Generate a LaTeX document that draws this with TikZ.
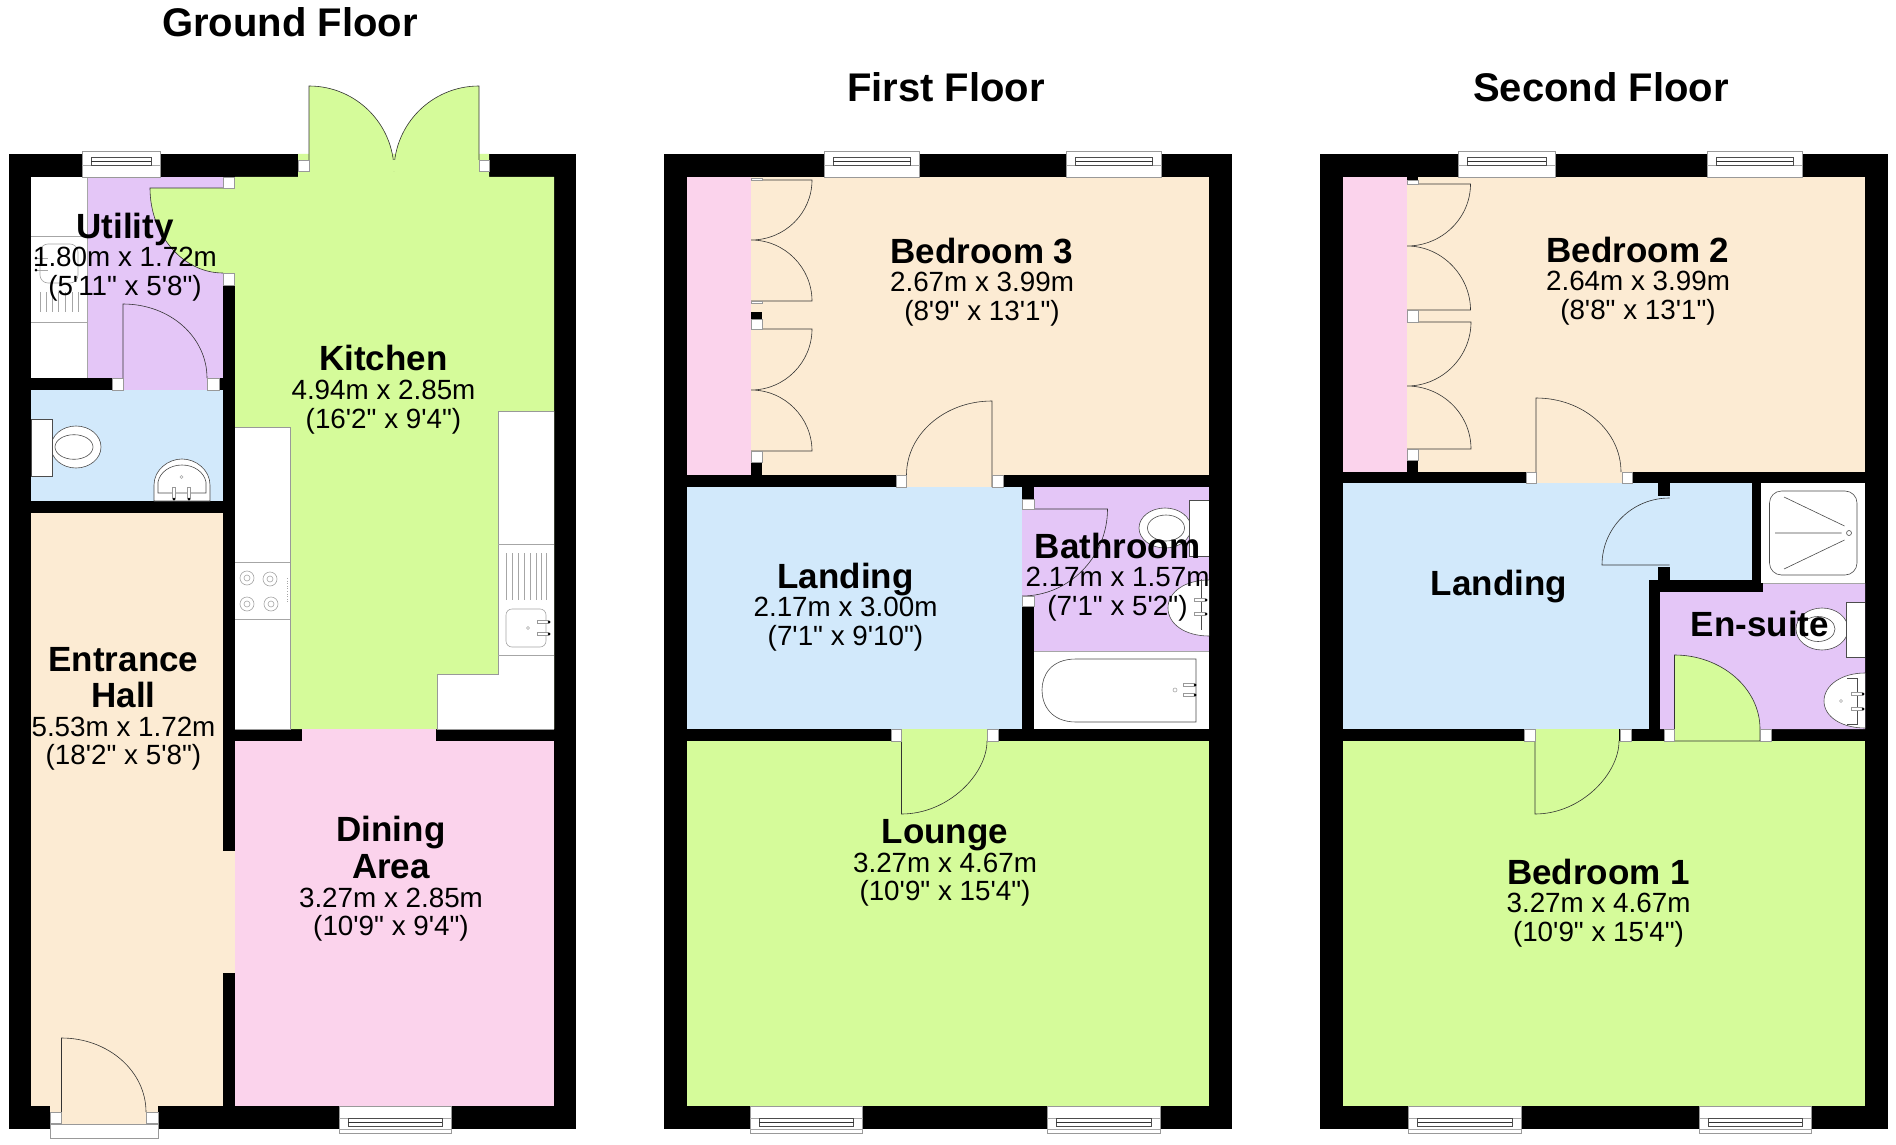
\documentclass[tikz,border=0pt]{standalone}
\usepackage{fontspec}
\setmainfont{Liberation Sans}[Ligatures=TeXOff]
\definecolor{roomgreen}{HTML}{D5FB9A}
\definecolor{roompink}{HTML}{FBD3EC}
\definecolor{roompeach}{HTML}{FCEBD3}
\definecolor{roomblue}{HTML}{D2E9FB}
\definecolor{roompurple}{HTML}{E4C6F7}
\newcommand{\roomname}[1]{{\fontsize{17.5}{18}\selectfont\bfseries #1}}

\begin{document}
\begin{tikzpicture}[
    x=0.5pt, y=-0.5pt,
    shell/.style={fill=black},
    unit/.style={draw=gray!80, line width=0.3pt, fill=white},
    fitting/.style={draw=black!70, line width=0.3pt, fill=white},
    thinline/.style={draw=gray!70, line width=0.3pt},
    leaf/.style={draw=black!80, line width=0.3pt},
    jamb/.style={draw=gray!80, line width=0.3pt, fill=white},
    tapdot/.style={fill=black},
    floortitle/.style={font=\fontsize{20}{22}\selectfont\bfseries},
    roomlabel/.style={align=center, inner sep=0pt, font=\fontsize{13.9}{14.4}\selectfont}
]
\useasboundingbox (0,0) rectangle (1896,1145);

% Outer walls
\fill[shell] (8.5,154) rectangle (576,1129);
\fill[shell] (664,154) rectangle (1232,1129);
\fill[shell] (1320,154) rectangle (1888,1129);

% Ground floor rooms
\fill[roomgreen] (298,154) -- (489,154) -- (489,177) -- (554,177) -- (554,729) -- (235,729) -- (235,177) -- (298,177) -- cycle;
\fill[roomgreen] (223,188) rectangle (235,273);
\fill[roompurple] (87.5,177) rectangle (223,378);
\fill[roompurple] (123,378) rectangle (207,390);
\fill[white] (31,177) rectangle (87.5,378);
\fill[roomblue] (31,390) rectangle (223,501);
\fill[roompeach] (31,513) rectangle (223,1106);
\fill[roompeach] (223,851) rectangle (235,973);
\fill[roompink] (235,741) rectangle (554,1106);
\fill[roompink] (302,729) rectangle (436,741);
\fill[roompeach] (50,1106) rectangle (158,1124);
\draw[thinline] (87.5,177) -- (87.5,378);

% Ground floor kitchen units
\draw[unit] (235,427) -- (290,427) -- (290,729) -- (235,729);
\draw[unit] (554,411) -- (498,411) -- (498,674) -- (437,674) -- (437,729) -- (554,729);
\draw[thinline] (235,562) -- (290,562) (235,619) -- (290,619);
\draw[thinline] (498,544) -- (554,544) (498,655) -- (554,655);
\foreach \cx/\cy in {247/578, 270/579, 247/604, 271/604} {
    \draw[thinline] (\cx,\cy) circle [radius=7];
    \draw[thinline] (\cx,\cy) circle [radius=3];
}
\draw[thinline, densely dotted] (287,578) -- (287,602);
\foreach \lx in {506,512,518,524,530,536,541,546} {
    \draw[thinline] (\lx,553) -- (\lx,600);
}
\draw[thinline, rounded corners=3pt] (506,609) rectangle (546,647);
\draw[thinline] (528,628) circle [radius=1.5];
\foreach \ty in {622,634} {
    \draw[jamb] (537,\ty-1.5) rectangle (548,\ty+1.5);
    \fill[tapdot] (549,\ty) circle [radius=1.5];
}

% Utility fittings
\draw[thinline] (31,236) -- (87.5,236) (31,322) -- (87.5,322);
\draw[thinline, rounded corners=4pt] (40,244) rectangle (78,283);
\foreach \lx in {40,46,52,58,65,72,78} {
    \draw[thinline] (\lx,292) -- (\lx,312);
}
\foreach \ty in {258,270} {
    \draw[thinline] (37,\ty) -- (48,\ty);
    \fill[tapdot] (36,\ty) circle [radius=1.5];
}

% WC fittings
\draw[fitting] (76,447) ellipse [x radius=25, y radius=21];
\draw[thinline, draw=black!70] (74,447) ellipse [x radius=19, y radius=12.3];
\draw[fitting] (31,419) rectangle (52,476);
\draw[fitting] (154,501) -- (154,485) .. controls (154,470) and (168,459) .. (182,459) .. controls (196,459) and (210,470) .. (210,485) -- (210,501) -- cycle;
\draw[thinline, draw=black!70] (158,493) -- (158,482) .. controls (160,472) and (170,465) .. (182,465) .. controls (194,465) and (204,472) .. (206,482) -- (206,493) -- cycle;
\draw[thinline] (181.5,477) circle [radius=1.5];
\foreach \tx in {174,189} {
    \draw[jamb] (\tx-1.5,487) rectangle (\tx+1.5,498);
    \fill[tapdot] (\tx,499) circle [radius=1.5];
}

% Ground floor doors
\draw[leaf, fill=roomgreen] (309,160) -- (309,86) .. controls (356,86) and (394,124) .. (394,171) .. controls (394,124) and (432,86) .. (479,86) -- (479,160);
\fill[roomgreen] (309,160) rectangle (479,171);
\draw[leaf, fill=roomgreen] (223,188) -- (150,188) .. controls (150,235) and (183,273) .. (223,273);
\draw[leaf] (123,378) -- (123,304) .. controls (170,304) and (207,337) .. (207,378);
\draw[leaf] (61.5,1112) -- (61.5,1038) .. controls (108,1038) and (146,1071) .. (146,1112);
\foreach \xa/\ya/\xb/\yb in {298/160/309/171, 479/160/489/171, 223/177/234/188, 223/273/234/285, 112/378/123/390, 207/378/219/390, 50/1112/61.5/1123, 146/1112/158/1123} {
    \draw[jamb] (\xa,\ya) rectangle (\xb,\yb);
}
\draw[unit] (50,1124) rectangle (158,1138);

% First floor rooms
\fill[roompink] (687,177) rectangle (751,475);
\fill[roompeach] (751,177) rectangle (1209,475);
\fill[roompeach] (906.5,475) rectangle (992,487);
\fill[roomblue] (687,487) rectangle (1022,729);
\fill[roompurple] (1034,487) rectangle (1209,651);
\fill[roompurple] (1022,509) rectangle (1034,596);
\fill[white] (1034,651) rectangle (1209,729);
\fill[roomgreen] (687,741) rectangle (1209,1106);
\fill[roomgreen] (901.5,729) rectangle (987,741);
\draw[thinline] (1034,651) -- (1209,651);

% Bathroom fittings
\draw[fitting] (1165,528) ellipse [x radius=26, y radius=20];
\draw[thinline, draw=black!70] (1166,528) ellipse [x radius=18.5, y radius=13];
\draw[fitting] (1209,500) -- (1189,500) -- (1189,556) -- (1209,556);
\draw[fitting] (1209,580) .. controls (1185,580) and (1168,592) .. (1168,608) .. controls (1168,624) and (1185,636) .. (1209,636);
\draw[thinline, draw=black!70] (1201,579) -- (1201,630);
\foreach \ty in {600,614} {
    \draw[jamb] (1194,\ty-1.5) rectangle (1205,\ty+1.5);
    \fill[tapdot] (1206,\ty) circle [radius=1.5];
}
\draw[fitting] (1196,659) -- (1076,659) .. controls (1051,659) and (1042,675) .. (1042,690) .. controls (1042,705) and (1051,722) .. (1076,722) -- (1196,722) -- cycle;
\draw[thinline] (1175,690) circle [radius=2];
\foreach \ty in {685,695} {
    \draw[jamb] (1183,\ty-1.5) rectangle (1194,\ty+1.5);
    \fill[tapdot] (1195,\ty) circle [radius=1.5];
}

% First floor doors
\draw[leaf] (751,180) -- (812,180) .. controls (812,213) and (785,240) .. (751,240) .. controls (785,240) and (812,268) .. (812,301) -- (751,301);
\draw[leaf] (751,329) -- (812,329) .. controls (812,362) and (785,390) .. (751,390) .. controls (785,390) and (812,418) .. (812,451) -- (751,451);
\draw[leaf] (992,487) -- (992,401) .. controls (945,401) and (906.5,434) .. (906.5,475);
\draw[leaf] (1022,509) -- (1107.5,509) .. controls (1107.5,557) and (1069,596) .. (1022,596);
\draw[leaf] (901.5,741) -- (901.5,814) .. controls (948.5,814) and (987,774) .. (987,741);
\fill[shell] (751,312) rectangle (762,319);
\fill[shell] (751,462) rectangle (762,475);
\foreach \xa/\ya/\xb/\yb in {751/319/762/329, 751/451/762/462, 751/178/762/180, 751/301/762/303, 896/475/906.5/487, 992/475/1003/487, 1022/499/1034/509, 1022/596/1034/606, 891/729/901.5/741, 987/729/998/741} {
    \draw[jamb] (\xa,\ya) rectangle (\xb,\yb);
}

% Second floor rooms
\fill[roompink] (1343,177) rectangle (1407,472);
\fill[roompeach] (1407,177) rectangle (1865,472);
\fill[roompeach] (1536,472) rectangle (1622,483);
\fill[roomblue] (1343,483) rectangle (1648.5,729);
\fill[roomblue] (1648.5,483) rectangle (1752,580);
\fill[white] (1761,483) rectangle (1865,583);
\fill[roompurple] (1660,592) -- (1763,592) -- (1763,583) -- (1865,583) -- (1865,729) -- (1660,729) -- cycle;
\fill[roomgreen] (1343,741) rectangle (1865,1106);
\fill[roomgreen] (1535,729) rectangle (1619,741);
\fill[roomgreen] (1674.5,729) rectangle (1760,741);
\fill[shell] (1407,177) rectangle (1418,182);
\fill[shell] (1407,460) rectangle (1418,472);
\fill[shell] (1658,483) rectangle (1669.5,496);
\fill[shell] (1658,567) rectangle (1669.5,580);
\draw[thinline] (1763,583) -- (1865,583);

% Shower fittings
\draw[thinline, draw=black!70, rounded corners=6pt] (1769.5,491) rectangle (1857,575);
\draw[thinline, draw=black!70] (1784,497) -- (1844.5,526) (1775,533) -- (1841.5,533) (1784,569) -- (1844.5,540);
\draw[thinline, draw=black!70] (1849,533) circle [radius=2.5];

% En-suite fittings
\draw[fitting] (1822,629) ellipse [x radius=26, y radius=21];
\draw[thinline, draw=black!70] (1818,629) ellipse [x radius=17, y radius=12.5];
\draw[fitting] (1865,602) -- (1846,602) -- (1846,657) -- (1865,657);
\draw[fitting] (1865,673) .. controls (1842,673) and (1824,685) .. (1824,701) .. controls (1824,717) and (1842,728) .. (1865,728);
\draw[thinline, draw=black!70] (1857,678) -- (1847,678) (1857,678) -- (1857,724) -- (1847,724);
\draw[thinline] (1841,701) circle [radius=1.5];
\foreach \ty in {694,709} {
    \draw[jamb] (1851,\ty-1.5) rectangle (1862,\ty+1.5);
    \fill[tapdot] (1863,\ty) circle [radius=1.5];
}

% Second floor doors
\draw[leaf] (1407,184) -- (1470.5,184) .. controls (1470.5,218) and (1442,246) .. (1407,246) .. controls (1442,246) and (1470.5,276) .. (1470.5,310) -- (1407,310);
\draw[leaf] (1407,322) -- (1471,322) .. controls (1471,357) and (1442,386) .. (1407,386) .. controls (1442,386) and (1471,414) .. (1471,449) -- (1407,449);
\draw[leaf] (1536,483) -- (1536,398) .. controls (1583,398) and (1621,431) .. (1621,472);
\draw[leaf] (1669.5,498) .. controls (1632,498) and (1602,528) .. (1602,565) -- (1669.5,565);
\draw[leaf] (1535,741) -- (1535,814) .. controls (1581,814) and (1619,774) .. (1619,741);
\draw[leaf, fill=roomgreen] (1674.5,741) -- (1674.5,655) .. controls (1721,655) and (1760,688) .. (1760,729) -- (1760,741) -- cycle;
\foreach \xa/\ya/\xb/\yb in {1407/310/1418/322, 1407/449/1418/460, 1407/180/1418/184, 1526/472/1536/483, 1622/472/1632.5/483, 1524/729/1535/741, 1620/729/1631/741, 1664/729/1674.5/741, 1760/729/1771/741} {
    \draw[jamb] (\xa,\ya) rectangle (\xb,\yb);
}

% Windows
\foreach \xa/\xb in {82/160, 824/919.5, 1066.5/1161.5, 1458/1555, 1707/1802} {
    \draw[unit] (\xa,151) rectangle (\xb,177);
    \draw[thinline] (\xa,165) -- (\xb,165);
    \draw[thinline, draw=black!70] (\xa+9,157) rectangle (\xb-9,165);
    \draw[draw=black!80, line width=0.4pt] (\xa+9,161) -- (\xb-9,161);
}
\foreach \xa/\xb in {339/451, 750/862.5, 1047/1160, 1408.5/1521, 1699.5/1811} {
    \draw[unit] (\xa,1106) rectangle (\xb,1133);
    \draw[thinline] (\xa,1118) -- (\xb,1118) (\xa,1129) -- (\xb,1129);
    \draw[thinline, draw=black!70] (\xa+9,1118) rectangle (\xb-9,1126);
    \draw[draw=black!80, line width=0.4pt] (\xa+9,1122) -- (\xb-9,1122);
}

% Titles
\node[floortitle] (groundtitle) at (290,22) {Ground Floor};
\node[floortitle] (firsttitle) at (946,87) {First Floor};
\node[floortitle] (secondtitle) at (1601,87) {Second Floor};

% Room labels
\node[roomlabel] (utility) at (125,257) {\roomname{Utility}\\1.80m x 1.72m\\(5'11" x 5'8")};
\node[roomlabel] (kitchen) at (383.5,389.5) {\roomname{Kitchen}\\4.94m x 2.85m\\(16'2" x 9'4")};
\node[roomlabel] (hall) at (123.5,709) {\roomname{Entrance}\\[3.6pt]\roomname{Hall}\\5.53m x 1.72m\\(18'2" x 5'8")};
\node[roomlabel] (dining) at (391,879) {\roomname{Dining}\\[1.5pt]\roomname{Area}\\3.27m x 2.85m\\(10'9" x 9'4")};
\node[roomlabel] (bedthree) at (982,282) {\roomname{Bedroom 3}\\2.67m x 3.99m\\(8'9" x 13'1")};
\node[roomlabel] (landingone) at (845.5,607) {\roomname{Landing}\\2.17m x 3.00m\\(7'1" x 9'10")};
\node[roomlabel] (bathroom) at (1117.5,577) {\roomname{Bathroom}\\2.17m x 1.57m\\(7'1" x 5'2")};
\node[roomlabel] (lounge) at (945,863) {\roomname{Lounge}\\3.27m x 4.67m\\(10'9" x 15'4")};
\node[roomlabel] (bedtwo) at (1638,281) {\roomname{Bedroom 2}\\2.64m x 3.99m\\(8'8" x 13'1")};
\node[roomlabel] (landingtwo) at (1499,586.5) {\roomname{Landing}};
\node[roomlabel] (ensuite) at (1760,624) {\roomname{En-suite}};
\node[roomlabel] (bedone) at (1598.5,903) {\roomname{Bedroom 1}\\3.27m x 4.67m\\(10'9" x 15'4")};

\end{tikzpicture}
\end{document}
